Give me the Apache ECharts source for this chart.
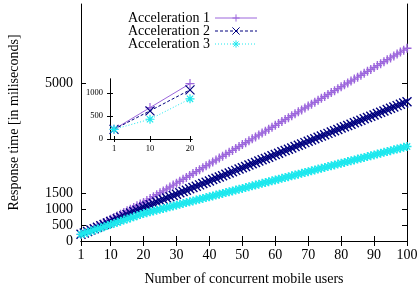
<!DOCTYPE html>
<html><head><meta charset="utf-8">
<script src="https://cdn.jsdelivr.net/npm/echarts@6/dist/echarts.min.js"></script>
<style>html,body{margin:0;padding:0;background:#fff}#c{width:418px;height:289px}</style>
</head><body><div id="c"></div>
<script>
const users = [1,2,3,4,5,6,7,8,9,10,11,12,13,14,15,16,17,18,19,20,21,22,23,24,25,26,27,28,29,30,31,32,33,34,35,36,37,38,39,40,41,42,43,44,45,46,47,48,49,50,51,52,53,54,55,56,57,58,59,60,61,62,63,64,65,66,67,68,69,70,71,72,73,74,75,76,77,78,79,80,81,82,83,84,85,86,87,88,89,90,91,92,93,94,95,96,97,98,99,100];
const accel1 = [210,263,316,370,423,476,529,582,636,689,742,795,848,902,955,1008,1061,1114,1168,1220,1281,1342,1403,1464,1525,1586,1647,1708,1769,1830,1891,1952,2013,2074,2135,2196,2257,2318,2379,2440,2501,2562,2623,2684,2745,2806,2867,2928,2989,3050,3111,3172,3233,3294,3355,3416,3477,3538,3599,3660,3721,3782,3843,3904,3965,4026,4087,4148,4209,4270,4331,4392,4453,4514,4575,4636,4697,4758,4819,4880,4941,5002,5063,5124,5185,5246,5307,5368,5429,5490,5551,5612,5673,5734,5795,5856,5917,5978,6039,6100];
const accel2 = [210,255,300,345,390,435,480,525,570,615,660,705,750,795,840,885,930,975,1020,1065,1107,1149,1190,1232,1274,1316,1358,1399,1441,1483,1525,1567,1608,1650,1692,1734,1776,1817,1859,1901,1943,1985,2026,2068,2110,2152,2194,2235,2277,2319,2361,2403,2444,2486,2528,2570,2612,2653,2695,2737,2779,2821,2862,2904,2946,2988,3030,3071,3113,3155,3197,3239,3280,3322,3364,3406,3448,3489,3531,3573,3615,3657,3698,3740,3782,3824,3866,3907,3949,3991,4033,4075,4116,4158,4200,4242,4284,4325,4367,4409];
const accel3 = [210,245,279,314,349,384,418,453,488,522,557,592,626,661,696,731,765,800,835,870,897,923,950,976,1003,1029,1056,1082,1109,1135,1162,1188,1215,1241,1268,1294,1321,1347,1374,1400,1427,1453,1480,1506,1533,1559,1586,1612,1639,1665,1692,1718,1745,1771,1798,1824,1851,1877,1904,1930,1957,1983,2010,2036,2063,2089,2116,2142,2169,2195,2222,2248,2275,2301,2328,2354,2381,2407,2434,2460,2487,2513,2540,2566,2593,2619,2646,2672,2699,2725,2752,2778,2805,2831,2858,2884,2911,2937,2964,2990];
const xTicks = [1,10,20,30,40,50,60,70,80,90,100];
const yTicks = [0,500,1000,1500,5000];
const insetUsers = [1,10,20];
const inset1 = [210,680,1200];
const inset2 = [210,610,1065];
const inset3 = [210,428,870];
const insetXTicks = [1,10,20];
const insetYTicks = [0,500,1000];
const names = ['Acceleration 1','Acceleration 2','Acceleration 3'];

const colors = ['#9c66dc','#00007f','#1ee8ee'];
const lineTypes = ['solid',[3,2],[1,2]];
const symbols = [
  'path://M5,0V10M0,5H10',
  'path://M0,0L10,10M10,0L0,10',
  'path://M5,0V10M0,5H10M1.5,1.5L8.5,8.5M8.5,1.5L1.5,8.5'
];
const FONT = 'Liberation Serif';
const FS = 14;

function pairs(xs, ys){ return xs.map((x,i)=>[x, ys[i]]); }

function axisDef(grid, min, max, ticks, showLabels, pos, fs, margin){
  return {
    type:'value', gridIndex:grid, min:min, max:max, position:pos,
    axisLine:{show:true, lineStyle:{color:'#000', width:1}},
    axisTick:{show:true, inside:true, length: grid===0?5:3, customValues:ticks, lineStyle:{color:'#000'}},
    axisLabel:{show:showLabels, customValues:ticks, color:'#000', fontFamily:FONT, fontSize:fs, margin:margin,
      formatter:function(v){return String(v);}},
    splitLine:{show:false}
  };
}

const xMain = axisDef(0,1,100,xTicks,true,'bottom',FS,7);
xMain.name = 'Number of concurrent mobile users';
xMain.nameLocation = 'middle'; xMain.nameGap = 31;
xMain.nameTextStyle = {fontFamily:FONT, fontSize:FS, color:'#000'};
const yMain = axisDef(0,0,7500,yTicks,true,'left',FS,8);
yMain.name = 'Response time [in miliseconds]';
yMain.nameLocation = 'middle'; yMain.nameGap = 60;
yMain.nameTextStyle = {fontFamily:FONT, fontSize:FS, color:'#000'};

const series = [];
[accel1,accel2,accel3].forEach((d,i)=>{
  series.push({
    name:names[i], type:'line', xAxisIndex:0, yAxisIndex:0,
    data:pairs(users,d), symbol:symbols[i], symbolSize:9, showAllSymbol:true,
    lineStyle:{color:colors[i], width:1, type:lineTypes[i]},
    itemStyle:{color:colors[i], borderColor:colors[i], borderWidth:1.4},
    animation:false, z:3
  });
});
[inset1,inset2,inset3].forEach((d,i)=>{
  series.push({
    name:names[i]+' ', type:'line', xAxisIndex:2, yAxisIndex:2,
    data:pairs(insetUsers,d), symbol:symbols[i], symbolSize:9,
    lineStyle:{color:colors[i], width:1, type:lineTypes[i]},
    itemStyle:{color:colors[i], borderColor:colors[i], borderWidth:1.2},
    animation:false, z:3
  });
});

const option = {
  animation:false,
  backgroundColor:'#fff',
  grid:[
    {left:81, right:11, top:4, bottom:48, outerBoundsMode:'none', containLabel:false},
    {left:109, top:79, width:83, height:60, outerBoundsMode:'none', containLabel:false}
  ],
  legend:{
    data:names, orient:'vertical', align:'right', left:123, top:6,
    itemWidth:42, itemHeight:9, itemGap:-1,
    lineStyle:{width:1},
    itemStyle:{color:'transparent', borderWidth:1},
    textStyle:{fontFamily:FONT, fontSize:FS, color:'#000', lineHeight:13}
  },
  xAxis:[
    xMain,
    axisDef(0,1,100,xTicks,false,'top',FS,8),
    axisDef(1,-0.25,20.5,insetXTicks,true,'bottom',8.5,5),
    axisDef(1,-0.25,20.5,insetXTicks,false,'top',8.5,5)
  ],
  yAxis:[
    yMain,
    axisDef(0,0,7500,yTicks,false,'right',FS,8),
    axisDef(1,0,1300,insetYTicks,true,'left',8.5,6),
    axisDef(1,0,1300,insetYTicks,false,'right',8.5,6)
  ],
  series:series
};
const chart = echarts.init(document.getElementById('c'), null, {renderer:'canvas'});
chart.setOption(option);
</script></body></html>
